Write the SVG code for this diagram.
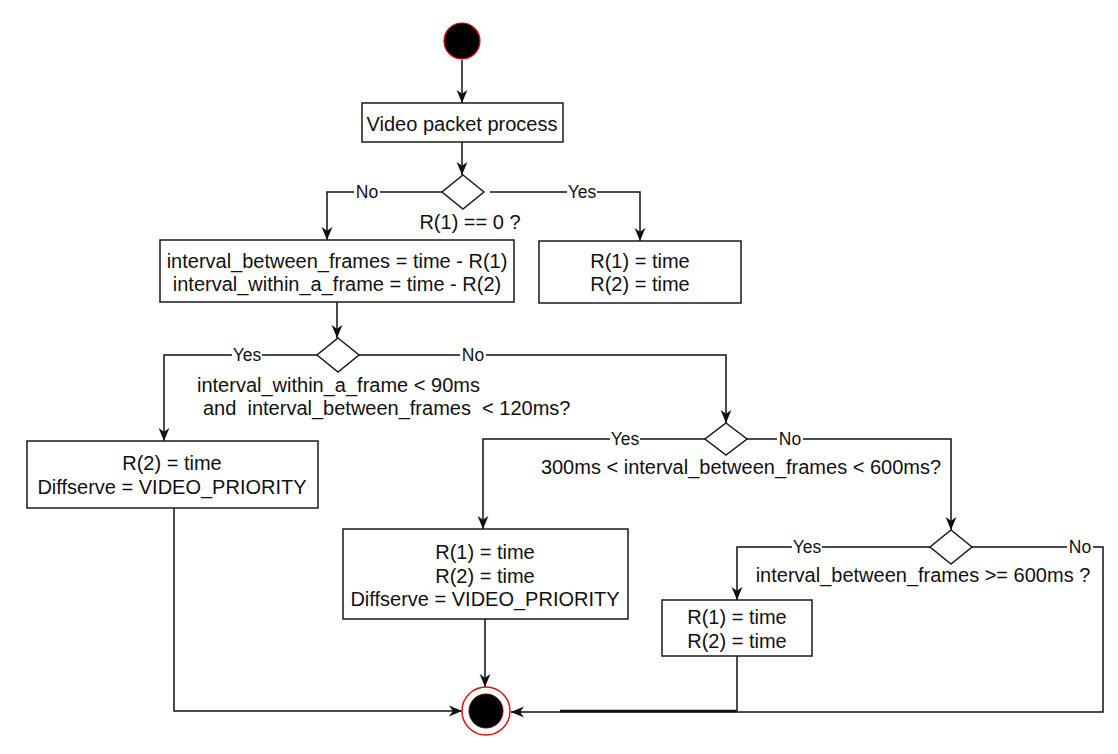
<svg xmlns="http://www.w3.org/2000/svg" width="1118" height="754" viewBox="0 0 1118 754">
  <style>
    .box { fill: #ffffff; stroke: #1a1a1a; stroke-width: 1.5; }
    .dia { fill: #ffffff; stroke: #1a1a1a; stroke-width: 1.5; }
    .txt { font-family: "Liberation Sans", Arial, Helvetica, sans-serif; font-size: 20px; fill: #111111; text-anchor: middle; }
    .cond { font-family: "Liberation Sans", Arial, Helvetica, sans-serif; font-size: 20px; fill: #111111; white-space: pre; }
    .lbl { font-family: "Liberation Sans", Arial, Helvetica, sans-serif; font-size: 17.5px; fill: #111111; text-anchor: middle; }
    .lblbg { fill: #ffffff; }
    .edge { fill: none; stroke: #111111; stroke-width: 1.5; }
  </style>
  <defs>
    <marker id="arrow" markerUnits="userSpaceOnUse" viewBox="0 0 12 12" refX="12" refY="6" markerWidth="13" markerHeight="13" orient="auto">
      <path d="M0,1 L12,6 L0,11 L3.5,6 z" fill="#111111"/>
    </marker>
  </defs>
  <rect width="1118" height="754" fill="#ffffff"/>

  <!-- connectors -->
  <g id="connectors">
    <path class="edge" d="M462,60 L462,103" marker-end="url(#arrow)"/>
    <path class="edge" d="M462,142 L462,175" marker-end="url(#arrow)"/>
    <path class="edge" d="M442,192 L327,192 L327,240" marker-end="url(#arrow)"/>
    <path class="edge" d="M490,192 L640,192 L640,241" marker-end="url(#arrow)"/>
    <path class="edge" d="M337,302 L337,338" marker-end="url(#arrow)"/>
    <path class="edge" d="M318,355 L164,355 L164,441" marker-end="url(#arrow)"/>
    <path class="edge" d="M359,355 L726,355 L726,423" marker-end="url(#arrow)"/>
    <path class="edge" d="M705,439 L483,439 L483,529" marker-end="url(#arrow)"/>
    <path class="edge" d="M747,439 L951,439 L951,530" marker-end="url(#arrow)"/>
    <path class="edge" d="M930,547 L737,547 L737,600" marker-end="url(#arrow)"/>
    <path class="edge" d="M972,547 L1103,547 L1103,712 L511,712" marker-end="url(#arrow)"/>
    <path class="edge" d="M737,656 L737,711"/>
    <path class="edge" d="M737,711 L560,711" style="stroke-width:2.5"/>
    <path class="edge" d="M174,508 L174,711 L462,711" marker-end="url(#arrow)"/>
    <path class="edge" d="M485,619 L485,687" marker-end="url(#arrow)"/>
    <!-- edge labels -->
    <rect class="lblbg" x="354" y="183" width="26" height="18"/>
    <text class="lbl" x="367" y="198">No</text>
    <rect class="lblbg" x="567" y="183" width="30" height="18"/>
    <text class="lbl" x="582" y="198">Yes</text>
    <rect class="lblbg" x="232" y="346" width="30" height="18"/>
    <text class="lbl" x="247" y="361">Yes</text>
    <rect class="lblbg" x="460" y="346" width="26" height="18"/>
    <text class="lbl" x="473" y="361">No</text>
    <rect class="lblbg" x="610" y="430" width="30" height="18"/>
    <text class="lbl" x="625" y="445">Yes</text>
    <rect class="lblbg" x="777" y="430" width="26" height="18"/>
    <text class="lbl" x="790" y="445">No</text>
    <rect class="lblbg" x="792" y="538" width="30" height="18"/>
    <text class="lbl" x="807" y="553">Yes</text>
    <rect class="lblbg" x="1067" y="538" width="26" height="18"/>
    <text class="lbl" x="1080" y="553">No</text>
  </g>

  <!-- start node -->
  <g id="start">
    <circle cx="462" cy="41" r="18" fill="#000000" stroke="#e01010" stroke-width="1.2"/>
  </g>

  <g id="video-packet-process">
    <rect class="box" x="362" y="103" width="201" height="39"/>
    <text class="txt" x="462" y="131">Video packet process</text>
  </g>

  <g id="check-r1-zero">
    <polygon class="dia" points="463,175 484,192 463,209 442,192"/>
    <text class="cond" x="470" y="229" text-anchor="middle">R(1) == 0 ?</text>
  </g>

  <g id="compute-intervals">
    <rect class="box" x="160" y="240" width="354" height="62"/>
    <text class="txt" x="337" y="268">interval_between_frames = time - R(1)</text>
    <text class="txt" x="337" y="291">interval_within_a_frame = time - R(2)</text>
  </g>

  <g id="init-registers">
    <rect class="box" x="539" y="241" width="202" height="62"/>
    <text class="txt" x="640" y="268">R(1) = time</text>
    <text class="txt" x="640" y="291">R(2) = time</text>
  </g>

  <g id="check-short-intervals">
    <polygon class="dia" points="338,338 359,355 338,372 317,355"/>
    <text class="cond" x="197" y="392">interval_within_a_frame &lt; 90ms</text>
    <text class="cond" x="203" y="415">and  interval_between_frames  &lt; 120ms?</text>
  </g>

  <g id="same-frame">
    <rect class="box" x="27" y="441" width="291" height="67"/>
    <text class="txt" x="172" y="470">R(2) = time</text>
    <text class="txt" x="172" y="494">Diffserve = VIDEO_PRIORITY</text>
  </g>

  <g id="check-mid-interval">
    <polygon class="dia" points="726,423 747,439 726,455 705,439"/>
    <text class="cond" x="741" y="474" text-anchor="middle">300ms &lt; interval_between_frames &lt; 600ms?</text>
  </g>

  <g id="new-frame">
    <rect class="box" x="343" y="529" width="285" height="90"/>
    <text class="txt" x="485" y="559">R(1) = time</text>
    <text class="txt" x="485" y="583">R(2) = time</text>
    <text class="txt" x="485" y="606">Diffserve = VIDEO_PRIORITY</text>
  </g>

  <g id="check-long-interval">
    <polygon class="dia" points="951,530 972,547 951,564 930,547"/>
    <text class="cond" x="923" y="582" text-anchor="middle">interval_between_frames &gt;= 600ms ?</text>
  </g>

  <g id="reset-registers">
    <rect class="box" x="662" y="600" width="150" height="56"/>
    <text class="txt" x="737" y="624">R(1) = time</text>
    <text class="txt" x="737" y="648">R(2) = time</text>
  </g>

  <!-- end node -->
  <g id="end">
    <circle cx="486" cy="711" r="24" fill="#ffffff" stroke="#e01010" stroke-width="1.5"/>
    <circle cx="486" cy="711" r="17" fill="#000000" stroke="#6a0000" stroke-width="1"/>
  </g>
</svg>
